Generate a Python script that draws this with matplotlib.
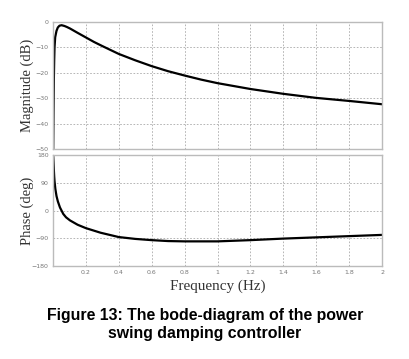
import matplotlib
matplotlib.use("Agg")
import matplotlib.pyplot as plt

# Magnitude response (Hz, dB)
mag_freq = [0.002, 0.004, 0.006, 0.008, 0.010, 0.014, 0.022, 0.03, 0.04, 0.053, 0.07,
            0.085, 0.104, 0.15, 0.20, 0.25, 0.30, 0.40, 0.50, 0.60, 0.70, 0.80, 0.90,
            1.00, 1.20, 1.40, 1.60, 1.80, 2.00]
mag_db = [-50, -35, -22, -15, -10, -6, -3.5, -2.2, -1.5, -1.3, -1.6,
          -2.0, -2.6, -4.3, -6.1, -7.9, -9.5, -12.6, -15.1, -17.4, -19.4, -21.1, -22.7,
          -24.1, -26.4, -28.3, -29.9, -31.1, -32.4]

# Phase response (Hz, deg)
ph_freq = [0.002, 0.004, 0.006, 0.008, 0.010, 0.015, 0.022, 0.03, 0.043, 0.063, 0.08,
           0.104, 0.15, 0.20, 0.29, 0.40, 0.50, 0.60, 0.70, 0.80,
           1.00, 1.20, 1.40, 1.60, 1.80, 2.00]
ph_deg = [178, 155, 130, 110, 95, 70, 47, 30, 10, -11, -22,
          -32, -46, -57, -72, -86, -92, -96, -99, -100,
          -100, -96, -91, -87, -83, -79]

mag_ticks = [0, -10, -20, -30, -40, -50]
ph_ticks = [180, 90, 0, -90, -180]
x_ticks = [0.2, 0.4, 0.6, 0.8, 1, 1.2, 1.4, 1.6, 1.8, 2]
x_ticklabels = ["0.2", "0.4", "0.6", "0.8", "1", "1.2", "1.4", "1.6", "1.8", "2"]

fig = plt.figure(figsize=(4.10, 3.59), dpi=100)
ax1 = fig.add_axes([0.129, 0.585, 0.803, 0.354])
ax2 = fig.add_axes([0.129, 0.259, 0.803, 0.309])

spine_c = "#bbbbbb"
tick_c = "#777777"
for ax in (ax1, ax2):
    ax.set_xlim(0, 2)
    ax.set_xticks([0] + x_ticks)
    ax.grid(True, linestyle=(0, (2, 2)), color="#aaaaaa", linewidth=0.6)
    for s in ax.spines.values():
        s.set_color(spine_c)
        s.set_linewidth(1.0)
    ax.tick_params(length=0, labelsize=4.5, labelcolor=tick_c, pad=3)

ax1.plot(mag_freq, mag_db, color="black", linewidth=1.6)
ax1.set_ylim(-50, 0)
ax1.set_yticks(mag_ticks)
ax1.set_xticklabels([])
ax1.set_ylabel("Magnitude (dB)", family="Liberation Serif", fontsize=10.5,
               color="#333333")
ax1.yaxis.set_label_coords(-0.058, 0.5)

ax2.plot(ph_freq, ph_deg, color="black", linewidth=1.6)
ax2.set_ylim(-180, 180)
ax2.set_yticks(ph_ticks)
ax2.set_xticklabels([""] + x_ticklabels)
ax2.set_ylabel("Phase (deg)", family="Liberation Serif", fontsize=10.5,
               color="#333333")
ax2.yaxis.set_label_coords(-0.058, 0.5)
ax2.set_xlabel("Frequency (Hz)", family="Liberation Serif", fontsize=10.9,
               color="#333333", labelpad=3)

fig.text(0.5, 0.097, "Figure 13: The bode-diagram of the power\nswing damping controller",
         ha="center", va="center", family="Liberation Sans", fontweight="bold",
         fontsize=11.4, linespacing=1.25)

fig.savefig("out.png", dpi=100, facecolor="white")
